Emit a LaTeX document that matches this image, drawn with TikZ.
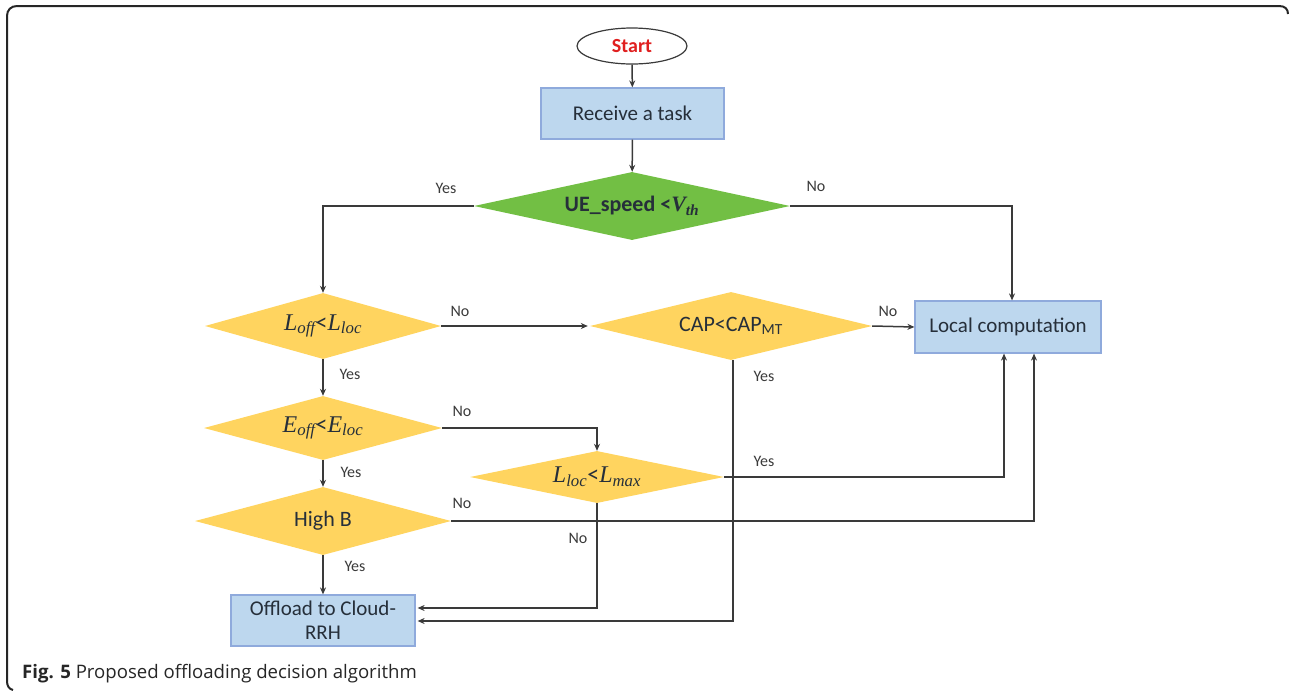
\documentclass[tikz,border=0pt]{standalone}
\usepackage{fontspec}
\setmainfont{Carlito}
\newfontfamily\capfont{Open Sans}
\newfontfamily\mfont{Liberation Serif}
\newcommand{\mvar}[2]{{\mfont\itshape #1\textsubscript{#2}}}
\usetikzlibrary{shapes.geometric,arrows.meta,calc}
\definecolor{boxfill}{HTML}{BDD7EE}
\definecolor{boxline}{HTML}{8FAADC}
\definecolor{yel}{HTML}{FFD45F}
\definecolor{grn}{HTML}{72BF44}
\definecolor{txt}{HTML}{262F3A}
\definecolor{ln}{HTML}{3A3A3A}
\definecolor{startred}{HTML}{E02020}
\tikzset{
  procbox/.style={rectangle,draw=boxline,line width=1.2pt,fill=boxfill,text=txt,align=center,inner sep=0pt,font=\fontsize{21}{24}\selectfont},
  decis/.style={diamond,fill=yel,inner sep=0pt,text=txt,font=\fontsize{22}{25}\selectfont},
  conn/.style={draw=ln,line width=1.5pt,-{Stealth[length=7pt,width=6pt]}},
  lbl/.style={text=ln,font=\fontsize{16}{18}\selectfont,inner sep=0pt},
}
\begin{document}
\begin{tikzpicture}[x=1pt,y=-1pt]
\useasboundingbox (0,0) rectangle (1291,691);
% frame
\draw[line width=2pt,black!85] (1288,14) .. controls (1288,9) and (1285,6) .. (1279,6) -- (17,6) .. controls (11,6) and (7,10) .. (7,16) -- (7,681) .. controls (7,686) and (9,689) .. (13,690);
% nodes
\node[ellipse,draw=ln,line width=1.2pt,fill=white,minimum width=110pt,minimum height=36pt,inner sep=0pt,text=startred,font=\bfseries\fontsize{20}{24}\selectfont] (start) at (632,46) {Start};
\node[procbox,minimum width=183pt,minimum height=51pt] (recv) at (632.5,113.5) {Receive a task};
\node[diamond,fill=grn,inner sep=0pt,minimum width=316pt,minimum height=68pt,label={[text=txt,font=\bfseries\fontsize{22}{25}\selectfont]center:UE\_speed <\mvar{V}{th}}] (speed) at (632,206) {};
\node[decis,minimum width=236pt,minimum height=66pt,label={[text=txt,font=\fontsize{24}{27}\selectfont]center:\mvar{L}{off}<\mvar{L}{loc}}] (loff) at (323,326) {};
\node[decis,minimum width=282pt,minimum height=68pt,label={[text=txt,font=\fontsize{22}{25}\selectfont]center:CAP<CAP\textsubscript{MT}}] (cap) at (731,326) {};
\node[procbox,minimum width=186pt,minimum height=52pt] (local) at (1008,327) {Local computation};
\node[decis,minimum width=238pt,minimum height=64pt,label={[text=txt,font=\fontsize{24}{27}\selectfont]center:\mvar{E}{off}<\mvar{E}{loc}}] (eoff) at (323,428) {};
\node[decis,minimum width=254pt,minimum height=52pt,label={[text=txt,font=\fontsize{24}{27}\selectfont]center:\mvar{L}{loc}<\mvar{L}{max}}] (lloc) at (597,477) {};
\node[decis,minimum width=256pt,minimum height=68pt,label={[text=txt,font=\fontsize{22}{25}\selectfont]center:High B}] (highb) at (323,521) {};
\node[procbox,minimum width=184pt,minimum height=51pt] (off) at (323,620.5) {Offload to Cloud-\\RRH};
% connectors
\draw[conn] (start) -- (recv);
\draw[conn] (recv) -- (speed);
\draw[conn] (speed.west) -| (loff.north);
\draw[conn] (speed.east) -| ([xshift=4pt]local.north);
\draw[conn] (loff.east) -- ([xshift=-2pt]cap.west);
\draw[conn] (cap.east) -- (local.west);
\draw[conn] (loff.south) -- (eoff.north);
\draw[conn] (eoff.east) -| (lloc.north);
\draw[conn] (eoff.south) -- (highb.north);
\draw[conn] (highb.south) -- (off.north);
\draw[conn] (lloc.east) -| ([xshift=-4pt]local.south);
\draw[conn] (highb.east) -| ([xshift=26pt]local.south);
\draw[conn] (lloc.south) |- ([yshift=12.5pt,xshift=2pt]off.east);
\draw[conn] ([xshift=2pt]cap.south) |- ([yshift=-0.5pt,xshift=2pt]off.east);
% labels
\node[lbl] (l1) at (446,188) {Yes};
\node[lbl] (l2) at (816,186) {No};
\node[lbl] (l3) at (460,311) {No};
\node[lbl] (l4) at (350,374) {Yes};
\node[lbl] (l5) at (888,311) {No};
\node[lbl] (l6) at (764,376) {Yes};
\node[lbl] (l7) at (462,411) {No};
\node[lbl] (l8) at (351,472) {Yes};
\node[lbl] (l9) at (764,461) {Yes};
\node[lbl] (l10) at (462,503) {No};
\node[lbl] (l11) at (578,538) {No};
\node[lbl] (l12) at (355,566) {Yes};
% caption
\node[anchor=west,inner sep=0pt,font=\capfont\fontsize{18.6}{21}\selectfont,text=black!85] (cap0) at (22,674) {\textbf{Fig. 5} Proposed offloading decision algorithm};
\end{tikzpicture}
\end{document}
